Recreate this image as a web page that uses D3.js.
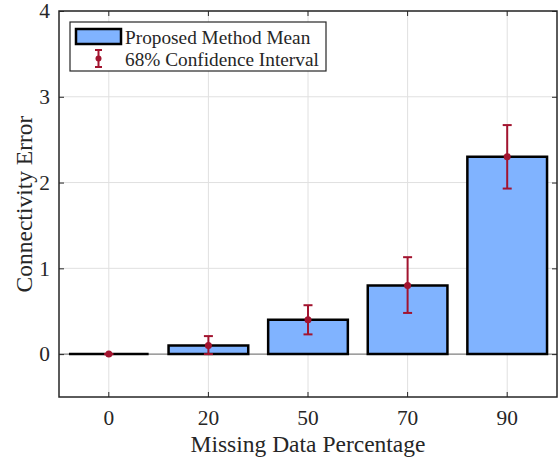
<html>
<head>
    <script src="https://d3js.org/d3.v7.min.js"></script>
    <style>
        body { margin: 0; background: #fff; }
    </style>
</head>
<body>
    <svg id="barchart" width="558" height="461"></svg>

    <script>
        // data
        const categories = ['0', '20', '50', '70', '90'];
        const means = [0, 0.1, 0.4, 0.8, 2.3];
        const lowerBounds = [0, 0.0, 0.23, 0.48, 1.93];
        const upperBounds = [0, 0.21, 0.57, 1.13, 2.67];
        const yTicks = [0, 1, 2, 3, 4];
        const legendLabels = ['Proposed Method Mean', '68% Confidence Interval'];

        const svg = d3.select('svg#barchart');
        const margins = { top: 11, right: 1, bottom: 64, left: 59 };
        const width = +svg.attr('width');
        const height = +svg.attr('height');
        const chartWidth = width - margins.left - margins.right;
        const chartHeight = height - margins.top - margins.bottom;

        const font = '"Liberation Serif", "Times New Roman", serif';
        const barColor = '#80b3ff';
        const errColor = '#a2142f';
        const axisColor = '#262626';

        const chartArea = svg.append('g')
                             .attr('transform', `translate(${margins.left}, ${margins.top})`);

        const xScale = d3.scaleBand()
                         .domain(categories)
                         .range([0, chartWidth])
                         .paddingInner(0.2)
                         .paddingOuter(0.1);

        const yScale = d3.scaleLinear()
                         .domain([-0.5, 4])
                         .range([chartHeight, 0]);

        // grid
        chartArea.append('g')
                 .selectAll('line')
                 .data(yTicks)
                 .enter().append('line')
                 .attr('x1', 0).attr('x2', chartWidth)
                 .attr('y1', d => yScale(d)).attr('y2', d => yScale(d))
                 .attr('stroke', '#e0e0e0').attr('stroke-width', 1);

        chartArea.append('g')
                 .selectAll('line')
                 .data(categories)
                 .enter().append('line')
                 .attr('x1', d => xScale(d) + xScale.bandwidth() / 2)
                 .attr('x2', d => xScale(d) + xScale.bandwidth() / 2)
                 .attr('y1', 0).attr('y2', chartHeight)
                 .attr('stroke', '#e0e0e0').attr('stroke-width', 1);

        // baseline
        chartArea.append('line')
                 .attr('x1', 0).attr('x2', chartWidth)
                 .attr('y1', yScale(0)).attr('y2', yScale(0))
                 .attr('stroke', '#6e6e6e').attr('stroke-width', 1);

        // bars (paths so the zero bar still shows its outline)
        chartArea.append('g')
                 .selectAll('path')
                 .data(categories)
                 .enter().append('path')
                 .attr('d', (d, i) => {
                     const x0 = xScale(d), x1 = xScale(d) + xScale.bandwidth();
                     const y0 = yScale(0), y1 = yScale(means[i]);
                     return `M${x0},${y0}L${x0},${y1}L${x1},${y1}L${x1},${y0}Z`;
                 })
                 .attr('fill', barColor)
                 .attr('stroke', '#000')
                 .attr('stroke-width', 2.5);

        // error bars
        const errGroup = chartArea.append('g')
                                  .selectAll('g')
                                  .data(categories)
                                  .enter().append('g')
                                  .attr('transform', d => `translate(${xScale(d) + xScale.bandwidth() / 2}, 0)`);

        errGroup.append('line')
                .attr('y1', (d, i) => yScale(lowerBounds[i]))
                .attr('y2', (d, i) => yScale(upperBounds[i]))
                .attr('stroke', errColor).attr('stroke-width', 2);
        errGroup.append('line')
                .attr('x1', -4.5).attr('x2', 4.5)
                .attr('y1', (d, i) => yScale(lowerBounds[i]))
                .attr('y2', (d, i) => yScale(lowerBounds[i]))
                .attr('stroke', errColor).attr('stroke-width', 2);
        errGroup.append('line')
                .attr('x1', -4.5).attr('x2', 4.5)
                .attr('y1', (d, i) => yScale(upperBounds[i]))
                .attr('y2', (d, i) => yScale(upperBounds[i]))
                .attr('stroke', errColor).attr('stroke-width', 2);
        errGroup.append('circle')
                .attr('cy', (d, i) => yScale(means[i]))
                .attr('r', 3.5)
                .attr('fill', errColor);

        // axes
        const styleAxis = g => {
            g.attr('font-family', font);
            g.select('.domain').remove();
            g.selectAll('line').attr('stroke', axisColor).attr('stroke-width', 1);
            g.selectAll('text').style('font-size', '21.4px').attr('fill', axisColor);
        };

        chartArea.append('g')
                 .attr('transform', `translate(0, ${chartHeight})`)
                 .call(d3.axisBottom(xScale).tickSizeInner(-5).tickSizeOuter(0).tickPadding(13))
                 .call(styleAxis);
        chartArea.append('g')
                 .call(d3.axisTop(xScale).tickSizeInner(-5).tickSizeOuter(0).tickFormat(''))
                 .call(styleAxis);
        chartArea.append('g')
                 .call(d3.axisLeft(yScale).tickValues(yTicks).tickSizeInner(-5).tickSizeOuter(0).tickPadding(9).tickFormat(d3.format('d')))
                 .call(styleAxis);
        chartArea.append('g')
                 .attr('transform', `translate(${chartWidth}, 0)`)
                 .call(d3.axisRight(yScale).tickValues(yTicks).tickSizeInner(-5).tickSizeOuter(0).tickFormat(''))
                 .call(styleAxis);

        chartArea.append('rect')
                 .attr('width', chartWidth).attr('height', chartHeight)
                 .attr('fill', 'none')
                 .attr('stroke', axisColor).attr('stroke-width', 1.5);

        // axis titles
        chartArea.append('text')
                 .attr('x', chartWidth / 2)
                 .attr('y', chartHeight + 55)
                 .attr('text-anchor', 'middle')
                 .attr('fill', axisColor)
                 .style('font-family', font)
                 .style('font-size', '23.5px')
                 .text('Missing Data Percentage');
        chartArea.append('text')
                 .attr('transform', 'rotate(-90)')
                 .attr('x', -chartHeight / 2)
                 .attr('y', -27)
                 .attr('text-anchor', 'middle')
                 .attr('fill', axisColor)
                 .style('font-family', font)
                 .style('font-size', '23.5px')
                 .text('Connectivity Error');

        // legend
        const legend = chartArea.append('g').attr('transform', 'translate(11, 11)');
        legend.append('rect')
              .attr('width', 256).attr('height', 49)
              .attr('fill', '#fff')
              .attr('stroke', axisColor).attr('stroke-width', 1.2);
        legend.append('rect')
              .attr('x', 6).attr('y', 7)
              .attr('width', 45).attr('height', 15)
              .attr('fill', barColor)
              .attr('stroke', '#000').attr('stroke-width', 2.5);
        legend.append('text')
              .attr('x', 55).attr('y', 22)
              .attr('fill', axisColor)
              .style('font-family', font)
              .style('font-size', '19.3px')
              .text(legendLabels[0]);

        const icon = legend.append('g').attr('transform', 'translate(28.5, 0)');
        icon.append('line').attr('y1', 28).attr('y2', 45)
            .attr('stroke', errColor).attr('stroke-width', 2);
        icon.append('line').attr('x1', -3.5).attr('x2', 3.5).attr('y1', 28).attr('y2', 28)
            .attr('stroke', errColor).attr('stroke-width', 2);
        icon.append('line').attr('x1', -3.5).attr('x2', 3.5).attr('y1', 45).attr('y2', 45)
            .attr('stroke', errColor).attr('stroke-width', 2);
        icon.append('circle').attr('cy', 36.5).attr('r', 3).attr('fill', errColor);
        legend.append('text')
              .attr('x', 55).attr('y', 44)
              .attr('fill', axisColor)
              .style('font-family', font)
              .style('font-size', '19.3px')
              .text(legendLabels[1]);
    </script>
</body>
</html>
